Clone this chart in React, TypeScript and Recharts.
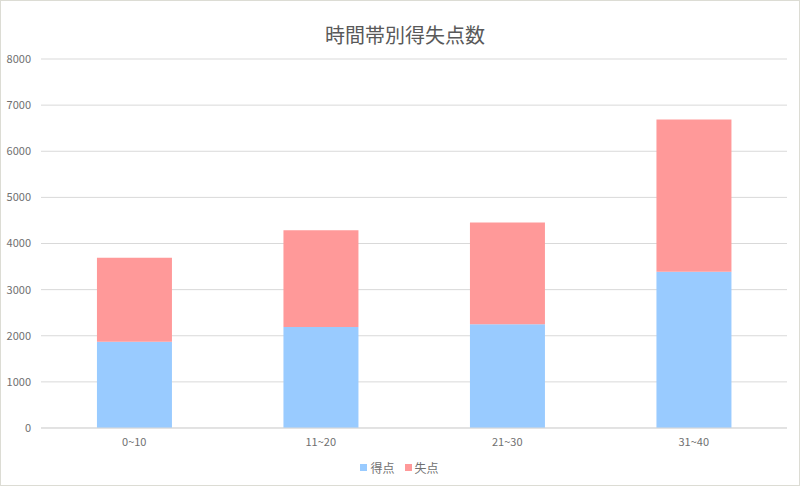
import React from 'react';
import { BarChart, Bar, XAxis, YAxis, CartesianGrid, Legend } from 'recharts';

const categories = ['0~10', '11~20', '21~30', '31~40'];
const scored = [1870, 2190, 2250, 3385];
const conceded = [1820, 2095, 2205, 3305];
const yTicks = [0, 1000, 2000, 3000, 4000, 5000, 6000, 7000, 8000];
const title = '時間帯別得失点数';
const seriesNames = ['得点', '失点'];
const colors = ['#99CBFF', '#FF9999'];

const data = categories.map((c, i) => ({ name: c, scored: scored[i], conceded: conceded[i] }));

const FONT = '"Noto Sans CJK JP", "Noto Sans", sans-serif';
const TEXT = '#707070';

const LegendContent = () => (
  <div style={{ display: 'flex', justifyContent: 'center', fontFamily: FONT, fontSize: 12, color: TEXT, marginLeft: 12 }}>
    {seriesNames.map((n, i) => (
      <div key={n} style={{ display: 'flex', alignItems: 'center', marginRight: i === 0 ? 10 : 0 }}>
        <span style={{ display: 'inline-block', width: 7, height: 7, background: colors[i], marginRight: 3 }} />
        <span>{n}</span>
      </div>
    ))}
  </div>
);

export default function App() {
  return (
    <div style={{ position: 'absolute', left: 0, top: 0, width: 800, height: 486, background: '#fff', boxSizing: 'border-box', border: '1px solid #dcdcd4' }}>
      <div style={{ position: 'absolute', top: 19, left: 0, width: 808, textAlign: 'center', fontFamily: FONT, fontSize: 20, color: '#595959' }}>{title}</div>
      <div style={{ position: 'absolute', left: -1, top: -1 }}>
        <BarChart width={800} height={486} data={data} margin={{ top: 59, right: 13, left: 0, bottom: 11 }} barCategoryGap="30%">
          <CartesianGrid vertical={false} stroke="#d9d9d9" strokeWidth={1} />
          <XAxis dataKey="name" tickLine={false} axisLine={{ stroke: '#d9d9d9' }} tick={{ fill: TEXT, fontSize: 11, fontFamily: FONT }} tickMargin={4} />
          <YAxis domain={[0, 8000]} ticks={yTicks} width={41} tickLine={false} axisLine={false} tickSize={0} tickMargin={10} tick={{ fill: TEXT, fontSize: 11, fontFamily: FONT }} interval={0} />
          <Legend verticalAlign="bottom" content={<LegendContent />} wrapperStyle={{ bottom: 10 }} />
          <Bar dataKey="scored" name={seriesNames[0]} stackId="a" fill={colors[0]} isAnimationActive={false} />
          <Bar dataKey="conceded" name={seriesNames[1]} stackId="a" fill={colors[1]} isAnimationActive={false} />
        </BarChart>
      </div>
    </div>
  );
}
